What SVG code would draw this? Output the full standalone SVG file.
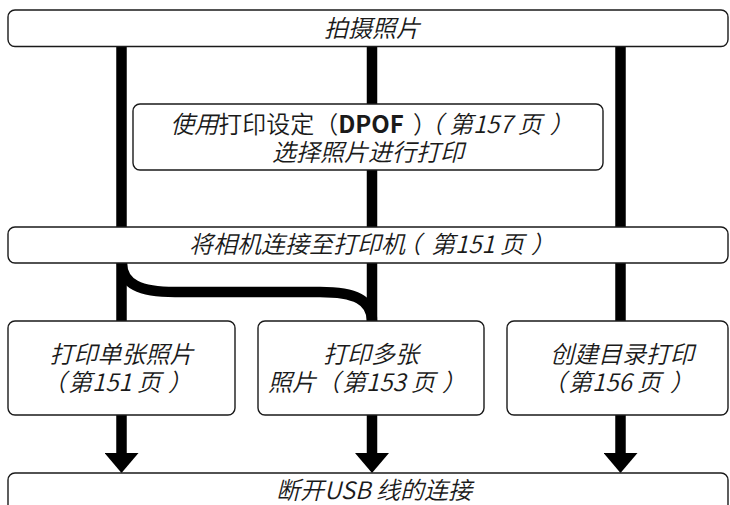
<svg xmlns="http://www.w3.org/2000/svg" width="730" height="505" viewBox="0 0 730 505">
  <defs>
    <style>
      .box { fill: #ffffff; stroke: #1a1a1a; stroke-width: 1.4; }
      .bar { fill: none; stroke: #000000; stroke-width: 10.5; stroke-linecap: butt; }
      .t { font-family: "Noto Sans CJK SC", "Noto Sans", sans-serif; font-size: 24px; font-weight: 350; fill: #1a1a1a; text-anchor: middle; }
      .i { font-style: italic; }
      .n { font-style: normal; }
      .b { font-weight: bold; font-style: normal; }
      .h { font-feature-settings: "halt" 1; }
    </style>
    <marker id="arrow" viewBox="0 0 20 34" refX="0" refY="17" markerWidth="20" markerHeight="34" markerUnits="userSpaceOnUse" orient="auto">
      <path d="M0,0 L20,17 L0,34 Z" fill="#000000"/>
    </marker>
  </defs>
  <rect width="730" height="505" fill="#ffffff"/>

  <g id="connectors">
    <path class="bar" d="M121.5 46 V227"/>
    <path class="bar" d="M372 46 V104"/>
    <path class="bar" d="M372 170 V227"/>
    <path class="bar" d="M620.5 46 V227"/>
    <path class="bar" d="M121.5 263 V321"/>
    <path class="bar" d="M372 263 V321"/>
    <path class="bar" d="M620.5 263 V321"/>
    <path class="bar" d="M122 263 C122 284 140 292 175 292 L320 292 C355 292 372 300 372 321"/>
    <path class="bar" d="M121.5 415 V453" marker-end="url(#arrow)"/>
    <path class="bar" d="M372 415 V453" marker-end="url(#arrow)"/>
    <path class="bar" d="M620.5 415 V453" marker-end="url(#arrow)"/>
  </g>

  <g id="node-shoot">
    <rect class="box" x="8" y="10" width="720" height="36.5" rx="7"/>
    <text class="t i" x="372" y="37">拍摄照片</text>
  </g>

  <g id="node-dpof">
    <rect class="box" x="133" y="104" width="470" height="66" rx="7"/>
    <text class="t" x="372" y="133"><tspan class="i">使用</tspan><tspan class="n">打印设定（</tspan><tspan class="b">DPOF</tspan><tspan class="n h" dx="9">）</tspan><tspan class="i h" dx="6">（</tspan><tspan class="i" dx="6">第157 页</tspan><tspan class="i" dx="8">）</tspan><tspan class="i" x="368" dy="28">选择照片进行打印</tspan></text>
  </g>

  <g id="node-connect">
    <rect class="box" x="8" y="227" width="720" height="36" rx="7"/>
    <text class="t i" x="372" y="253">将相机连接至打印机<tspan class="h" dx="4">（</tspan><tspan dx="10">第151 页</tspan><tspan dx="7">）</tspan></text>
  </g>

  <g id="node-single">
    <rect class="box" x="8" y="321" width="227" height="94" rx="7"/>
    <text class="t i" x="121.5" y="363">打印单张照片<tspan x="117" dy="28">（</tspan><tspan dx="2">第151 页</tspan><tspan dx="7">）</tspan></text>
  </g>

  <g id="node-multi">
    <rect class="box" x="258" y="321" width="226" height="94" rx="7"/>
    <text class="t i" x="371" y="363">打印多张<tspan x="367" dy="28">照片（</tspan><tspan dx="2">第153 页</tspan><tspan dx="7">）</tspan></text>
  </g>

  <g id="node-index">
    <rect class="box" x="507" y="321" width="221" height="94" rx="7"/>
    <text class="t i" x="622" y="363">创建目录打印<tspan x="618" dy="28">（</tspan><tspan dx="2">第156 页</tspan><tspan dx="9">）</tspan></text>
  </g>

  <g id="node-disconnect">
    <rect class="box" x="8" y="473" width="720" height="50" rx="7"/>
    <text class="t i" x="374" y="499">断开USB 线的连接</text>
  </g>
</svg>
